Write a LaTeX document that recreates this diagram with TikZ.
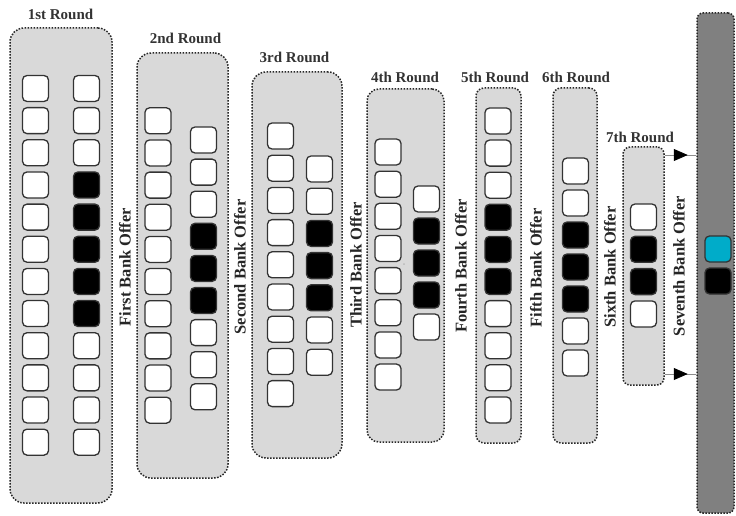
\documentclass[tikz,border=0pt]{standalone}
\usepackage{fontspec}
\setmainfont{Liberation Serif}
\usetikzlibrary{arrows.meta, decorations.markings}

\begin{document}
\begin{tikzpicture}[x=1pt, y=-1pt,
    round/.style={draw=black!85, fill=black!15, line width=1.5pt,
                  dash pattern=on 1.5pt off 1.5pt, inner sep=0pt},
    cell/.style={draw=black!80, fill=#1, line width=1.3pt, rounded corners=4.5pt,
                 minimum size=26pt, inner sep=0pt},
    title/.style={font=\fontsize{15}{18}\selectfont\bfseries, text=black!80},
    offer/.style={font=\fontsize{16.5}{20}\selectfont\bfseries, text=black!85, rotate=90},
    flow/.style={draw=black!45, line width=0.8pt, postaction={decorate},
                 decoration={markings, mark=at position 0.73 with
                 {\arrow{Triangle[length=14pt, width=12pt, color=black]}}}}]

% ── Colour palette ──────────────────────────────────────────
\definecolor{pick}{RGB}{0,172,201}

\fill[white] (0,0) rectangle (736,516);
\useasboundingbox (0,0) rectangle (736,516);

% ── Round boxes ─────────────────────────────────────────────
\node[round, rounded corners=14pt, minimum width=102pt, minimum height=475pt] (r1) at (61,265.5) {};
\node[round, rounded corners=14pt, minimum width=91pt,  minimum height=425pt] (r2) at (182.5,265.5) {};
\node[round, rounded corners=14pt, minimum width=90pt,  minimum height=386pt] (r3) at (297,265) {};
\node[round, rounded corners=12pt, minimum width=77pt,  minimum height=353pt] (r4) at (405.5,265.5) {};
\node[round, rounded corners=8pt,  minimum width=45pt,  minimum height=355pt] (r5) at (498.5,265.5) {};
\node[round, rounded corners=8pt,  minimum width=44pt,  minimum height=355pt] (r6) at (575,265.5) {};
\node[round, rounded corners=7pt,  minimum width=41pt,  minimum height=238pt] (r7) at (643.5,266) {};

% ── Final bar ───────────────────────────────────────────────
\node[round, fill=black!50, rounded corners=6pt, minimum width=37pt, minimum height=500pt] (bar) at (715.5,263) {};

% ── Round titles ────────────────────────────────────────────
\node[title] (t1) at (60.5,14)  {1st Round};
\node[title] (t2) at (185.5,38) {2nd Round};
\node[title] (t3) at (294.5,57) {3rd Round};
\node[title] (t4) at (405,77)   {4th Round};
\node[title] (t5) at (495,77)   {5th Round};
\node[title] (t6) at (576,77)   {6th Round};
\node[title] (t7) at (640,137)  {7th Round};

% ── Offers (one column per bank) ────────────────────────────
\foreach \i in {0,...,11}
  \node[cell=white] (r1a-\i) at (35.5,{88.5+32.15*\i}) {};
\foreach \c [count=\i from 0] in {white,white,white,black,black,black,black,black,white,white,white,white}
  \node[cell=\c] (r1b-\i) at (86.5,{88.5+32.15*\i}) {};

\foreach \i in {0,...,9}
  \node[cell=white] (r2a-\i) at (158,{120.8+32.15*\i}) {};
\foreach \c [count=\i from 0] in {white,white,white,black,black,black,white,white,white}
  \node[cell=\c] (r2b-\i) at (203.5,{140+32.1*\i}) {};

\foreach \i in {0,...,8}
  \node[cell=white] (r3a-\i) at (280.5,{136+32.2*\i}) {};
\foreach \c [count=\i from 0] in {white,white,black,black,black,white,white}
  \node[cell=\c] (r3b-\i) at (319.5,{169+32.2*\i}) {};

\foreach \i in {0,...,7}
  \node[cell=white] (r4a-\i) at (388,{152+32.15*\i}) {};
\foreach \c [count=\i from 0] in {white,black,black,black,white}
  \node[cell=\c] (r4b-\i) at (426.5,{199+32*\i}) {};
\node[font=\fontsize{4}{4}\selectfont, text=black!50, inner sep=0pt] (mark) at (404,265) {<<};

\foreach \c [count=\i from 0] in {white,white,white,black,black,black,white,white,white,white}
  \node[cell=\c] (r5a-\i) at (498,{121+32.1*\i}) {};

\foreach \c [count=\i from 0] in {white,white,black,black,black,white,white}
  \node[cell=\c] (r6a-\i) at (575.5,{171+32*\i}) {};

\foreach \c [count=\i from 0] in {white,black,black,white}
  \node[cell=\c] (r7a-\i) at (643.5,{217+32.3*\i}) {};

\node[cell=pick]  (pick) at (718,249) {};
\node[cell=black] (last) at (718,281) {};

% ── Bank offer labels ───────────────────────────────────────
\node[offer] (o1) at (125,267) {First Bank Offer};
\node[offer] (o2) at (240,267) {Second Bank Offer};
\node[offer] (o3) at (356,265) {Third Bank Offer};
\node[offer] (o4) at (461,266) {Fourth Bank Offer};
\node[offer] (o5) at (536,268) {Fifth Bank Offer};
\node[offer] (o6) at (610,267) {Sixth Bank Offer};
\node[offer] (o7) at (679,266) {Seventh Bank Offer};

% ── Into the final bar ──────────────────────────────────────
\draw[flow] (r7.east |- 0,155) -- (bar.west |- 0,155);
\draw[flow] (r7.east |- 0,374) -- (bar.west |- 0,374);

\end{tikzpicture}
\end{document}
